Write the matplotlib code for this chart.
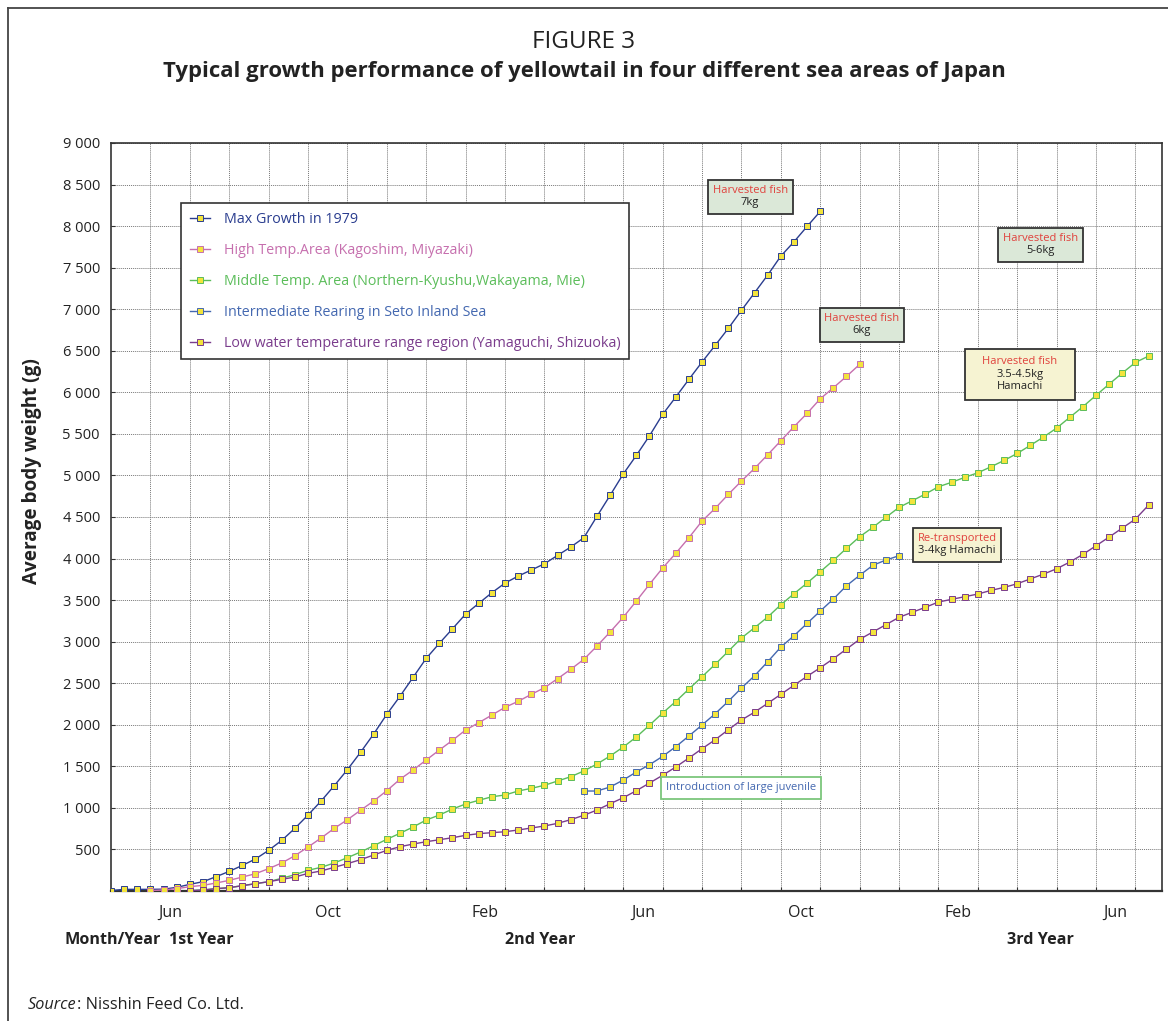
import numpy as np
import matplotlib.pyplot as plt
from matplotlib.lines import Line2D
from matplotlib.offsetbox import TextArea, VPacker, AnnotationBbox, DrawingArea

plt.rcParams['font.family'] = ['Open Sans', 'DejaVu Sans']

W, H = 1168, 1021

# weights (g) read every 10 days (3 readings per month), month 0 = start of May, 1st year
max_growth_start = 0
max_growth = [5, 20, 20, 20, 22, 44, 80, 112, 172, 236, 308, 385, 489, 609, 754, 914,
              1083, 1267, 1460, 1669, 1889, 2126, 2342, 2571, 2799, 2980, 3155, 3332,
              3461, 3589, 3705, 3789, 3862, 3937, 4038, 4138, 4250, 4508, 4760, 5017,
              5241, 5477, 5734, 5943, 6156, 6364, 6565, 6769, 6986, 7198, 7411, 7639,
              7811, 7996, 8177]

high_temp_start = 3
high_temp = [4, 12, 28, 52, 68, 96, 128, 168, 208, 269, 337, 425, 529, 638, 754, 858,
             971, 1083, 1207, 1344, 1456, 1576, 1696, 1813, 1937, 2025, 2117, 2210,
             2282, 2366, 2446, 2554, 2667, 2787, 2947, 3116, 3293, 3489, 3690, 3886,
             4063, 4250, 4451, 4604, 4772, 4932, 5085, 5249, 5417, 5586, 5747, 5922,
             6055, 6192, 6336]

middle_temp_start = 6
middle_temp = [4, 12, 28, 40, 64, 88, 112, 153, 196, 249, 285, 337, 401, 469, 545, 622,
               694, 770, 854, 914, 986, 1047, 1091, 1134, 1155, 1203, 1235, 1272, 1323,
               1375, 1444, 1528, 1624, 1732, 1853, 1995, 2141, 2280, 2430, 2578, 2727,
               2884, 3044, 3168, 3296, 3444, 3577, 3705, 3841, 3978, 4123, 4262, 4375,
               4496, 4616, 4695, 4776, 4864, 4917, 4977, 5032, 5104, 5181, 5265, 5362,
               5462, 5570, 5699, 5827, 5964, 6099, 6232, 6360, 6436]

seto_start = 36
seto = [1203, 1203, 1251, 1335, 1432, 1519, 1620, 1736, 1865, 1997, 2133, 2282, 2442,
        2590, 2758, 2935, 3071, 3220, 3368, 3513, 3673, 3798, 3918, 3982, 4034]

low_temp_start = 6
low_temp = [4, 12, 28, 40, 64, 88, 112, 140, 168, 212, 241, 285, 329, 377, 433, 489, 533,
            565, 593, 617, 641, 670, 690, 702, 713, 734, 758, 782, 814, 858, 911, 974,
            1050, 1122, 1207, 1299, 1392, 1492, 1600, 1712, 1820, 1940, 2057, 2152, 2258,
            2366, 2475, 2583, 2686, 2795, 2911, 3028, 3116, 3204, 3293, 3353, 3413, 3477,
            3509, 3541, 3573, 3617, 3653, 3697, 3755, 3813, 3877, 3958, 4050, 4154, 4259,
            4367, 4475, 4643]

series_names = ['Max Growth in 1979',
                'High Temp.Area (Kagoshim, Miyazaki)',
                'Middle Temp. Area (Northern-Kyushu,Wakayama, Mie)',
                'Intermediate Rearing in Seto Inland Sea',
                'Low water temperature range region (Yamaguchi, Shizuoka)']
series_colors = ['#2a3d8f', '#c66fae', '#5bbd5a', '#4468b0', '#7a3c8c']

month_labels = ['Jun', 'Oct', 'Feb', 'Jun', 'Oct', 'Feb', 'Jun']
month_label_pos = [1.5, 5.5, 9.5, 13.5, 17.5, 21.5, 25.5]
n_months = 80 / 3


def px(x, y):
    return x / W, 1 - y / H


fig = plt.figure(figsize=(W / 100, H / 100), dpi=100)
ax = fig.add_axes([111 / W, 1 - 891 / H, 1050.7 / W, 748 / H])

series = [(max_growth_start, max_growth), (high_temp_start, high_temp),
          (middle_temp_start, middle_temp), (seto_start, seto),
          (low_temp_start, low_temp)]
for (start, vals), name, col in zip(series, series_names, series_colors):
    x = (start + np.arange(len(vals))) / 3
    ax.plot(x, vals, '-', color=col, lw=1.0, marker='s', ms=3.8,
            mfc='#f3e43c', mec=col, mew=0.7, label=name, zorder=3)

ax.set_xlim(0, n_months)
ax.set_ylim(0, 9000)

yt = np.arange(500, 9001, 500)
ax.set_yticks(yt)
ax.set_yticklabels([f'{v:,}'.replace(',', ' ') for v in yt], fontsize=10.5, color='#222')
ax.set_xticks(np.arange(1, 27))
ax.set_xticklabels([])
ax.set_xticks(month_label_pos, minor=True)
ax.set_xticklabels(month_labels, minor=True, fontsize=11.5, color='#222')
ax.tick_params(axis='x', which='minor', length=0, pad=10)
ax.tick_params(axis='x', which='major', length=3, direction='in', color='#333')
ax.tick_params(axis='y', length=3, direction='in', pad=8, color='#333')

ax.grid(True, which='major', color='#777777', lw=0.7, ls=(0, (1, 1)))
for s in ax.spines.values():
    s.set_color('#333')
    s.set_linewidth(1.2)
ax.spines['bottom'].set_linewidth(1.6)

leg = ax.legend(loc='upper left', bbox_to_anchor=((181 - 111) / 1050.7, (891 - 203) / 748),
                borderaxespad=0, fontsize=10.3, labelspacing=1.12, handlelength=1.4,
                handletextpad=1.0, borderpad=0.6, fancybox=False, framealpha=1,
                edgecolor='#333')
leg.get_frame().set_linewidth(1.2)
for t, col in zip(leg.get_texts(), series_colors):
    t.set_color(col)


def note_box(xd, yd, lines, face, edge='#333', min_w=0, extra=0):
    kids = [DrawingArea(min_w, extra)] if extra else []
    for txt, col in lines:
        kids.append(TextArea(txt, textprops=dict(color=col, fontsize=8)))
    kids.append(DrawingArea(min_w, extra))
    pack = VPacker(children=kids, align='center', pad=0, sep=1)
    ab = AnnotationBbox(pack, (xd, yd), xycoords='data', frameon=True, pad=0.35,
                        bboxprops=dict(facecolor=face, edgecolor=edge, lw=1.3), zorder=5)
    ax.add_artist(ab)


red, dark = '#e0413c', '#222'
note_box(16.22, 8349, [('Harvested fish', red), ('7kg', dark)], '#dbe8d8')
note_box(19.06, 6809, [('Harvested fish', red), ('6kg', dark)], '#dbe8d8')
note_box(23.60, 7771, [('Harvested fish', red), ('5-6kg', dark)], '#dbe8d8')
note_box(23.07, 6219, [('Harvested fish', red), ('3.5-4.5kg', dark), ('Hamachi', dark)],
         '#f6f3d2', min_w=72, extra=1)
note_box(21.47, 4162, [('Re-transported', red), ('3-4kg Hamachi', dark)], '#f6f3d2')
note_box(15.99, 1239, [('Introduction of large juvenile', '#4468b0')], 'white', edge='#7cc67c')

# titles and outer labels
fig.text(*px(584, 42), 'FIGURE 3', ha='center', va='center', fontsize=17.5, color='#222')
fig.text(*px(584, 72), 'Typical growth performance of yellowtail in four different sea areas of Japan',
         ha='center', va='center', fontsize=15.9, fontweight='bold', color='#222')
fig.text(*px(32, 471), 'Average body weight (g)', rotation=90, ha='center', va='center',
         fontsize=13.6, fontweight='bold', color='#222')
for xx, txt in [(113, 'Month/Year'), (201, '1st Year'), (540, '2nd Year'), (1040, '3rd Year')]:
    fig.text(*px(xx, 940), txt, ha='center', va='center', fontsize=11.6,
             fontweight='bold', color='#222')

src = fig.text(*px(28, 1005), 'Source', ha='left', va='center', fontsize=11.7,
               style='italic', color='#222')
ax.annotate(': Nisshin Feed Co. Ltd.', xy=(1, 0), xycoords=src, ha='left', va='bottom',
            fontsize=11.7, color='#222', annotation_clip=False)

# outer frame (left and top edges)
fig.add_artist(Line2D([8 / W, 8 / W], [0, 1 - 8 / H], color='#444', lw=1.3))
fig.add_artist(Line2D([8 / W, 1], [1 - 8 / H, 1 - 8 / H], color='#444', lw=1.3))

fig.savefig('out.png', dpi=100)
